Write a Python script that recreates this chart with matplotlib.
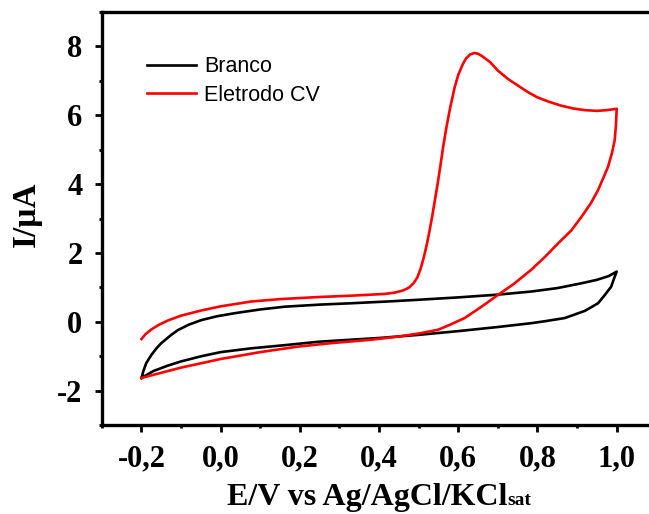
import matplotlib
matplotlib.use("Agg")
import matplotlib.pyplot as plt
from matplotlib.ticker import MultipleLocator, FuncFormatter

# --- data ---
# Branco: forward sweep (upper) then return (lower)
branco_fwd_E = [-0.200, -0.195, -0.188, -0.175, -0.160, -0.150, -0.125, -0.108, -0.080, -0.049,
                -0.010, 0.035, 0.100, 0.162, 0.250, 0.330, 0.420, 0.498, 0.600, 0.700,
                0.784, 0.850, 0.911, 0.950, 0.980, 1.000]
branco_fwd_I = [-1.63, -1.42, -1.20, -0.96, -0.74, -0.62, -0.38, -0.24, -0.08, 0.05,
                0.16, 0.25, 0.36, 0.44, 0.50, 0.54, 0.59, 0.64, 0.71, 0.79,
                0.88, 0.98, 1.12, 1.22, 1.33, 1.46]
branco_rev_E = [1.000, 0.993, 0.986, 0.970, 0.953, 0.920, 0.869, 0.820, 0.784, 0.700,
                0.600, 0.498, 0.400, 0.300, 0.246, 0.160, 0.077, 0.000, -0.049, -0.100,
                -0.133, -0.170, -0.200]
branco_rev_I = [1.46, 1.25, 1.02, 0.78, 0.54, 0.32, 0.11, 0.02, -0.04, -0.15,
                -0.27, -0.38, -0.47, -0.54, -0.58, -0.68, -0.77, -0.88, -1.00, -1.15,
                -1.27, -1.43, -1.63]

# Eletrodo CV
cv_fwd_E = [-0.200, -0.190, -0.175, -0.155, -0.133, -0.100, -0.049, 0.000, 0.077, 0.150,
            0.246, 0.330, 0.414, 0.440, 0.460, 0.475, 0.487, 0.497, 0.505, 0.513,
            0.520, 0.527, 0.534, 0.541, 0.548, 0.555, 0.562, 0.570, 0.580, 0.591,
            0.600, 0.612, 0.620, 0.630, 0.640, 0.650, 0.660, 0.680, 0.700, 0.725,
            0.750, 0.775, 0.800, 0.830, 0.860, 0.890, 0.920, 0.950, 0.975, 1.000]
cv_fwd_I = [-0.50, -0.36, -0.22, -0.08, 0.04, 0.18, 0.33, 0.45, 0.59, 0.66,
            0.72, 0.76, 0.81, 0.85, 0.91, 0.99, 1.12, 1.30, 1.55, 1.88,
            2.22, 2.62, 3.06, 3.54, 4.02, 4.55, 5.10, 5.65, 6.25, 6.82,
            7.18, 7.50, 7.66, 7.77, 7.81, 7.79, 7.72, 7.55, 7.30, 7.06,
            6.87, 6.68, 6.52, 6.39, 6.28, 6.20, 6.15, 6.13, 6.15, 6.19]
cv_rev_E = [1.000, 0.998, 0.995, 0.988, 0.978, 0.965, 0.953, 0.935, 0.911, 0.885,
            0.852, 0.820, 0.784, 0.740, 0.700, 0.660, 0.616, 0.580, 0.549, 0.500,
            0.448, 0.380, 0.279, 0.195, 0.100, 0.000, -0.100, -0.200]
cv_rev_I = [6.19, 5.70, 5.28, 4.90, 4.50, 4.15, 3.83, 3.45, 3.05, 2.65,
            2.28, 1.90, 1.51, 1.10, 0.78, 0.45, 0.11, -0.08, -0.23, -0.34,
            -0.43, -0.52, -0.62, -0.72, -0.88, -1.08, -1.33, -1.63]

serif = "Liberation Serif"

fig = plt.figure(figsize=(6.49, 5.14), dpi=100)
ax = fig.add_axes([0.157, 0.173, 554.4 / 649, 0.8035])

ax.plot(branco_fwd_E + branco_rev_E, branco_fwd_I + branco_rev_I,
        color="black", lw=1.9, label="Branco")
ax.plot(cv_fwd_E + cv_rev_E, cv_fwd_I + cv_rev_I,
        color="#ff0000", lw=1.9, label="Eletrodo CV")

ax.set_xlim(-0.3, 1.1)
ax.set_ylim(-3, 9)

ax.xaxis.set_major_locator(MultipleLocator(0.2))
ax.xaxis.set_minor_locator(MultipleLocator(0.1))
ax.yaxis.set_major_locator(MultipleLocator(2))
ax.yaxis.set_minor_locator(MultipleLocator(1))
ax.xaxis.set_major_formatter(FuncFormatter(lambda v, p: ("%.1f" % v).replace(".", ",")))
ax.yaxis.set_major_formatter(FuncFormatter(lambda v, p: "%d" % round(v)))

for s in ax.spines.values():
    s.set_linewidth(2.4)

ax.tick_params(which="major", direction="out", length=5, width=2, pad=9,
               labelsize=22, top=False, right=False)
ax.tick_params(which="minor", direction="out", length=2.5, width=2,
               top=False, right=False)
for lab in ax.get_xticklabels() + ax.get_yticklabels():
    lab.set_fontfamily(serif)
    lab.set_fontweight("bold")

ax.set_ylabel("I/μA", fontsize=24, fontweight="bold", fontfamily=serif)
ax.yaxis.set_label_coords(-0.108, 0.51)
ax.set_xlabel("E/V vs Ag/AgCl/KCl", fontsize=23, fontweight="bold", fontfamily=serif)
ax.xaxis.set_label_coords(0.478, -0.14)

leg = ax.legend(loc="upper left", bbox_to_anchor=(0.047, 0.94), frameon=False,
                prop={"family": "Liberation Sans", "size": 15.5},
                handlelength=2.25, handletextpad=0.4, labelspacing=0.35)

# subscript "sat" after the x label, on the same baseline
fig.canvas.draw()
bb = ax.xaxis.label.get_window_extent()
fig.text(bb.x1 / fig.bbox.width + 0.001, (bb.y0 + 7) / fig.bbox.height, "sat",
         fontsize=14, fontweight="bold", fontfamily=serif, va="baseline", ha="left")

fig.savefig("out.png", dpi=100)
